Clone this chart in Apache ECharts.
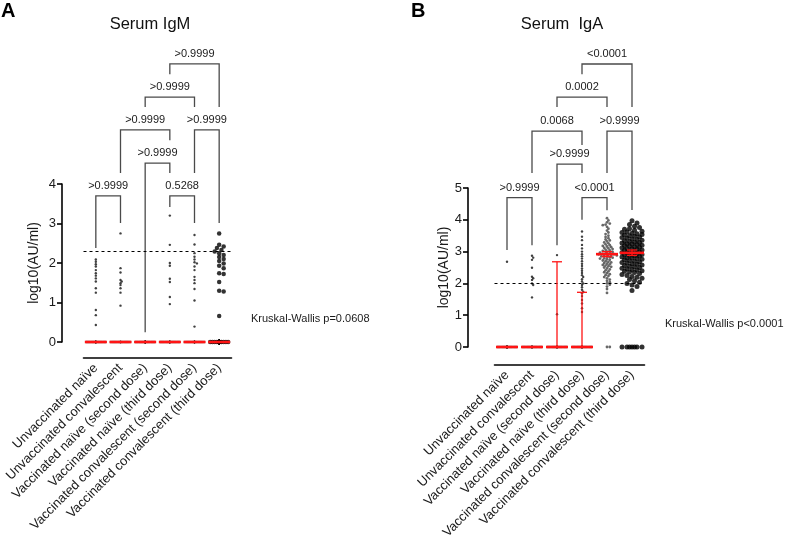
<!DOCTYPE html>
<html><head><meta charset="utf-8">
<script src="https://cdn.jsdelivr.net/npm/echarts@6/dist/echarts.min.js"></script>
<style>html,body{margin:0;padding:0;background:#fff}#c{width:788px;height:549px}</style>
</head><body><div id="c"></div>
<script>
const categories = ['Unvaccinated naïve', 'Unvaccinated convalescent', 'Vaccinated naïve (second dose)',
  'Vaccinated naïve (third dose)', 'Vaccinated convalescent (second dose)', 'Vaccinated convalescent (third dose)'];

// ---- Panel A: Serum IgM, log10(AU/ml), non-zero readings per group ----
const igmUnvacNaive = [2.09, 2.03, 1.97, 1.91, 1.82, 1.74, 1.68, 1.61, 1.53, 1.36, 1.25, 0.81, 0.68, 0.43];
const igmUnvacConv = [2.75, 1.87, 1.76, 1.57, 1.53, 1.49, 1.44, 1.36, 1.25, 0.92];
const igmVacNaive2 = [];
const igmVacNaive3 = [3.2, 2.46, 2.0, 1.93, 1.6, 1.52, 1.14, 0.96];
const igmVacConv2 = [2.71, 2.47, 2.25, 2.16, 2.09, 2.02, 1.99, 1.91, 1.82, 1.65, 1.57, 1.49, 1.34, 1.05, 0.39];
const igmVacConv3 = [2.75, 2.46, 2.42, 2.38, 2.33, 2.29, 2.25, 2.2, 2.15, 2.1, 2.05, 1.99, 1.93, 1.87, 1.74, 1.72, 1.52, 1.3, 1.28, 0.66];
const igmZeroCounts = [25, 20, 30, 25, 25, 40];
const igmMedian = [0, 0, 0, 0, 0, 0];
const igmErrLow = [0, 0, 0, 0, 0, 0];
const igmErrHigh = [0, 0, 0, 0, 0, 0];
const igmCutoff = 2.3;
const igmTicks = [0, 1, 2, 3, 4];

// ---- Panel B: Serum IgA ----
const igaUnvacNaive = [2.68];
const igaUnvacConv = [2.87, 2.81, 2.74, 2.49, 2.21, 2.16, 2.11, 2.0, 1.95, 1.56];
const igaVacNaive2 = [2.89, 1.03];
const igaVacNaive3 = [3.63, 3.47, 3.36, 3.21, 3.1, 3.0, 2.92, 2.85, 2.78, 2.7, 2.62, 2.55, 2.47, 2.4, 2.33, 2.26, 2.2, 2.13, 2.06, 2.0, 1.95, 1.88, 1.8, 1.74, 1.69, 1.6, 1.48, 1.37, 1.22, 1.1];
const igaVacConv2 = [4.05, 3.98, 3.92, 3.88, 3.85, 3.83, 3.78, 3.72, 3.66, 3.6, 3.55, 3.5, 3.46, 3.42, 3.38, 3.35, 3.32, 3.29, 3.26, 3.23, 3.2, 3.18, 3.16, 3.14, 3.12, 3.1, 3.08, 3.06, 3.04, 3.02, 3.0, 2.99, 2.97, 2.96, 2.94, 2.93, 2.92, 2.91, 2.9, 2.89, 2.88, 2.87, 2.85, 2.84, 2.82, 2.81, 2.79, 2.78, 2.76, 2.74, 2.72, 2.7, 2.68, 2.66, 2.64, 2.62, 2.6, 2.58, 2.56, 2.54, 2.52, 2.5, 2.47, 2.44, 2.41, 2.38, 2.35, 2.32, 2.29, 2.26, 2.23, 2.2, 2.16, 2.12, 2.08, 2.04, 2.0, 1.96, 1.9, 1.82, 1.7];
const igaVacConv3 = [3.97, 3.9, 3.85, 3.8, 3.76, 3.72, 3.7, 3.67, 3.64, 3.62, 3.6, 3.58, 3.56, 3.54, 3.52, 3.5, 3.48, 3.46, 3.44, 3.42, 3.4, 3.38, 3.36, 3.34, 3.32, 3.3, 3.29, 3.27, 3.25, 3.24, 3.22, 3.2, 3.19, 3.17, 3.15, 3.14, 3.12, 3.1, 3.09, 3.07, 3.05, 3.04, 3.02, 3.0, 2.99, 2.97, 2.96, 2.94, 2.93, 2.91, 2.9, 2.88, 2.86, 2.85, 2.83, 2.81, 2.8, 2.78, 2.76, 2.74, 2.72, 2.7, 2.68, 2.66, 2.64, 2.62, 2.6, 2.58, 2.56, 2.54, 2.52, 2.5, 2.48, 2.46, 2.44, 2.42, 2.4, 2.38, 2.36, 2.34, 2.31, 2.28, 2.25, 2.22, 2.19, 2.16, 2.12, 2.08, 2.04, 2.0, 1.95, 1.9, 1.78];
const igaZeroCounts = [30, 25, 25, 25, 2, 7];
const igaMedian = [0, 0, 0, 0, 2.92, 2.96];
const igaErrLow = [0, 0, 0, 0, 2.84, 2.88];
const igaErrHigh = [0, 0, 2.68, 1.72, 3.0, 3.05];
const igaCutoff = 2;
const igaTicks = [0, 1, 2, 3, 4, 5];

// ---- Multiple-comparison brackets (group indices, y levels in log10 units) ----
const bracketPairsA = [[3, 5], [2, 4], [1, 3], [4, 5], [2, 3], [0, 1], [3, 4]];
const bracketTopA = [7.04, 6.2, 5.37, 5.37, 4.53, 3.7, 3.7];
const bracketLeftEndA = [6.78, 5.95, 4.28, 4.28, 0.25, 2.38, 3.42];
const bracketRightEndA = [5.95, 5.95, 5.11, 3.01, 4.28, 3.01, 3.01];
const bracketLabelsA = ['>0.9999', '>0.9999', '>0.9999', '>0.9999', '>0.9999', '>0.9999', '0.5268'];

const bracketPairsB = [[3, 5], [2, 4], [1, 3], [4, 5], [2, 3], [0, 1], [3, 4]];
const bracketTopB = [8.9, 7.86, 6.79, 6.79, 5.75, 4.7, 4.7];
const bracketLeftEndB = [8.58, 7.55, 5.47, 5.47, 3.2, 3.05, 4.0];
const bracketRightEndB = [7.55, 7.55, 6.35, 4.31, 5.47, 3.2, 4.3];
const bracketLabelsB = ['<0.0001', '0.0002', '0.0068', '>0.9999', '>0.9999', '>0.9999', '<0.0001'];

const kwTextA = 'Kruskal-Wallis p=0.0608';
const kwTextB = 'Kruskal-Wallis p<0.0001';

// ------------------------------------------------------------------
const FONT = '"Liberation Sans", Arial, Helvetica, sans-serif';
const RED = '#ff1414';

const panels = [
  {
    grid: { left: 83.5, top: 184, width: 148, height: 158 },
    ticks: igmTicks, yOffset: 21.5, xOffset: 16, nameGap: 21,
    groups: [igmUnvacNaive, igmUnvacConv, igmVacNaive2, igmVacNaive3, igmVacConv2, igmVacConv3],
    zeros: igmZeroCounts, median: igmMedian, lo: igmErrLow, hi: igmErrHigh, cutoff: igmCutoff,
    bPairs: bracketPairsA, bTop: bracketTopA, bL: bracketLeftEndA, bR: bracketRightEndA, bLab: bracketLabelsA,
    dot: [2.4, 2.4, 2.4, 2.4, 2.4, 4.5], half: [10, 10, 10, 10, 10, 9],
    color: ['#111', '#111', '#111', '#111', '#111', '#000'], medHalf: [11, 11, 11, 11, 11, 11]
  },
  {
    grid: { left: 494.5, top: 188, width: 150, height: 159 },
    ticks: igaTicks, yOffset: 26.5, xOffset: 18, nameGap: 17,
    groups: [igaUnvacNaive, igaUnvacConv, igaVacNaive2, igaVacNaive3, igaVacConv2, igaVacConv3],
    zeros: igaZeroCounts, median: igaMedian, lo: igaErrLow, hi: igaErrHigh, cutoff: igaCutoff,
    bPairs: bracketPairsB, bTop: bracketTopB, bL: bracketLeftEndB, bR: bracketRightEndB, bLab: bracketLabelsB,
    dot: [2.4, 2.4, 2.4, 2.4, 2.8, 5], half: [10, 10, 10, 10, 10, 10.5],
    color: ['#111', '#111', '#111', '#111', '#444', '#000'], medHalf: [11, 11, 11, 11, 11, 12]
  }
];

// Beeswarm layout: spread points horizontally so they do not overlap
function swarm(values, zeroCount, col, dot, half, ppy, ppc) {
  const all = values.concat(new Array(zeroCount).fill(0)).sort((a, b) => b - a);
  const sep = dot * 0.8;
  const step = dot * 0.5;
  const cands = [0];
  for (let k = 1; k * step <= half + 1e-6; k++) { cands.push(k * step, -k * step); }
  const placed = [];
  const out = [];
  all.forEach(v => {
    const y = v * ppy;
    let best = null, bestD = -1;
    for (const o of cands) {
      let minD = Infinity;
      for (const p of placed) {
        const dy = p[1] - y;
        if (Math.abs(dy) >= sep) continue;
        const d = Math.hypot(p[0] - o, dy);
        if (d < minD) minD = d;
      }
      if (minD >= sep) { best = o; bestD = Infinity; break; }
      if (minD > bestD + 1e-9) { bestD = minD; best = o; }
    }
    placed.push([best, y]);
    out.push([col + best / ppc, v]);
  });
  return out;
}

const xAxis = [], yAxis = [], grid = [], series = [];
panels.forEach((P, pi) => {
  grid.push(P.grid);
  const ymax = P.ticks[P.ticks.length - 1];
  const ppy = P.grid.height / ymax;
  const ppc = P.grid.width / categories.length;
  xAxis.push({
    type: 'category', gridIndex: pi, data: categories, offset: P.xOffset,
    axisLine: { onZero: false, lineStyle: { color: '#000', width: 1.6 } },
    axisTick: { alignWithLabel: true, length: 7, lineStyle: { color: '#000', width: 1.6 } },
    axisLabel: { rotate: 45, interval: 0, fontSize: 13, color: '#1a1a1a', fontFamily: FONT, margin: 8 },
    splitLine: { show: false }
  });
  xAxis.push({ type: 'value', gridIndex: pi, show: false, min: -0.5, max: categories.length - 0.5,
    axisLine: { onZero: false } });
  yAxis.push({
    type: 'value', gridIndex: pi, min: P.ticks[0], max: ymax, interval: 1, offset: P.yOffset,
    name: 'log10(AU/ml)', nameLocation: 'middle', nameGap: P.nameGap,
    nameTextStyle: { fontSize: 14, color: '#1a1a1a', fontFamily: FONT },
    axisLine: { show: true, onZero: false, lineStyle: { color: '#000', width: 1.6 } },
    axisTick: { show: true, length: 5, lineStyle: { color: '#000', width: 1.6 } },
    axisLabel: { fontSize: 13, color: '#1a1a1a', fontFamily: FONT, margin: 6 },
    splitLine: { show: false }
  });
  const xi = pi * 2 + 1;
  P.groups.forEach((g, ci) => {
    const s = {
      type: 'scatter', xAxisIndex: xi, yAxisIndex: pi, clip: false, z: 3,
      symbol: 'circle', symbolSize: P.dot[ci],
      itemStyle: { color: P.color[ci] },
      data: swarm(g, P.zeros[ci], ci, P.dot[ci], P.half[ci], ppy, ppc),
      silent: true
    };
    if (ci === 0) {
      s.markLine = {
        silent: true, symbol: ['none', 'none'], label: { show: false },
        lineStyle: { type: [3, 3], color: '#000', width: 1 },
        data: [{ yAxis: P.cutoff }]
      };
    }
    series.push(s);
  });
  // medians with error bars
  const medHalf = P.medHalf;
  series.push({
    type: 'custom', xAxisIndex: xi, yAxisIndex: pi, z: 5, clip: false, silent: true,
    data: P.median.map((m, i) => [i, m, P.lo[i], P.hi[i]]),
    renderItem: (params, api) => {
      const i = api.value(0), m = api.value(1), lo = api.value(2), hi = api.value(3);
      const c = api.coord([i, m]), cl = api.coord([i, lo]), ch = api.coord([i, hi]);
      const hw = medHalf[params.dataIndex];
      const cap = 5;
      const ch2 = [];
      if (hi > lo) {
        ch2.push({ type: 'line', shape: { x1: cl[0], y1: cl[1], x2: ch[0], y2: ch[1] }, style: { stroke: RED, lineWidth: 1.3 } });
        ch2.push({ type: 'line', shape: { x1: ch[0] - cap, y1: ch[1], x2: ch[0] + cap, y2: ch[1] }, style: { stroke: RED, lineWidth: 1.3 } });
        ch2.push({ type: 'line', shape: { x1: cl[0] - cap, y1: cl[1], x2: cl[0] + cap, y2: cl[1] }, style: { stroke: RED, lineWidth: 1.3 } });
      }
      ch2.push({ type: 'line', shape: { x1: c[0] - hw, y1: c[1], x2: c[0] + hw, y2: c[1] }, style: { stroke: RED, lineWidth: 2.6 } });
      return { type: 'group', children: ch2 };
    }
  });
  // comparison brackets
  const labs = P.bLab;
  series.push({
    type: 'custom', xAxisIndex: xi, yAxisIndex: pi, z: 2, clip: false, silent: true,
    data: P.bPairs.map((pr, k) => [pr[0], pr[1], P.bTop[k], P.bL[k], P.bR[k]]),
    renderItem: (params, api) => {
      const x1 = api.value(0), x2 = api.value(1), t = api.value(2), lb = api.value(3), rb = api.value(4);
      const tl = api.coord([x1, t]), tr = api.coord([x2, t]);
      const bl = api.coord([x1, lb]), br = api.coord([x2, rb]);
      return {
        type: 'group', children: [
          { type: 'polyline', shape: { points: [bl, tl, tr, br] }, style: { stroke: '#4a4a4a', lineWidth: 1.3, fill: null } },
          { type: 'text', x: (tl[0] + tr[0]) / 2, y: tl[1] - 10,
            style: { text: labs[params.dataIndex], align: 'center', verticalAlign: 'middle', fontSize: 11, fill: '#1a1a1a', fontFamily: FONT } }
        ]
      };
    }
  });
});

const chart = echarts.init(document.getElementById('c'), null, { renderer: 'canvas' });
chart.setOption({
  animation: false,
  backgroundColor: '#fff',
  grid, xAxis, yAxis, series,
  graphic: [
    { type: 'text', x: 1, y: 11, style: { text: 'A', fontSize: 20, fontWeight: 'bold', fill: '#000', fontFamily: FONT, verticalAlign: 'middle' } },
    { type: 'text', x: 411, y: 11, style: { text: 'B', fontSize: 20, fontWeight: 'bold', fill: '#000', fontFamily: FONT, verticalAlign: 'middle' } },
    { type: 'text', x: 150, y: 24, style: { text: 'Serum IgM', fontSize: 16.5, fill: '#111', fontFamily: FONT, align: 'center', verticalAlign: 'middle' } },
    { type: 'text', x: 562, y: 24, style: { text: 'Serum  IgA', fontSize: 16.5, fill: '#111', fontFamily: FONT, align: 'center', verticalAlign: 'middle' } },
    { type: 'text', x: 251, y: 319, style: { text: kwTextA, fontSize: 11, fill: '#1a1a1a', fontFamily: FONT, verticalAlign: 'middle' } },
    { type: 'text', x: 665, y: 324, style: { text: kwTextB, fontSize: 11, fill: '#1a1a1a', fontFamily: FONT, verticalAlign: 'middle' } }
  ]
});
</script>
</body></html>
